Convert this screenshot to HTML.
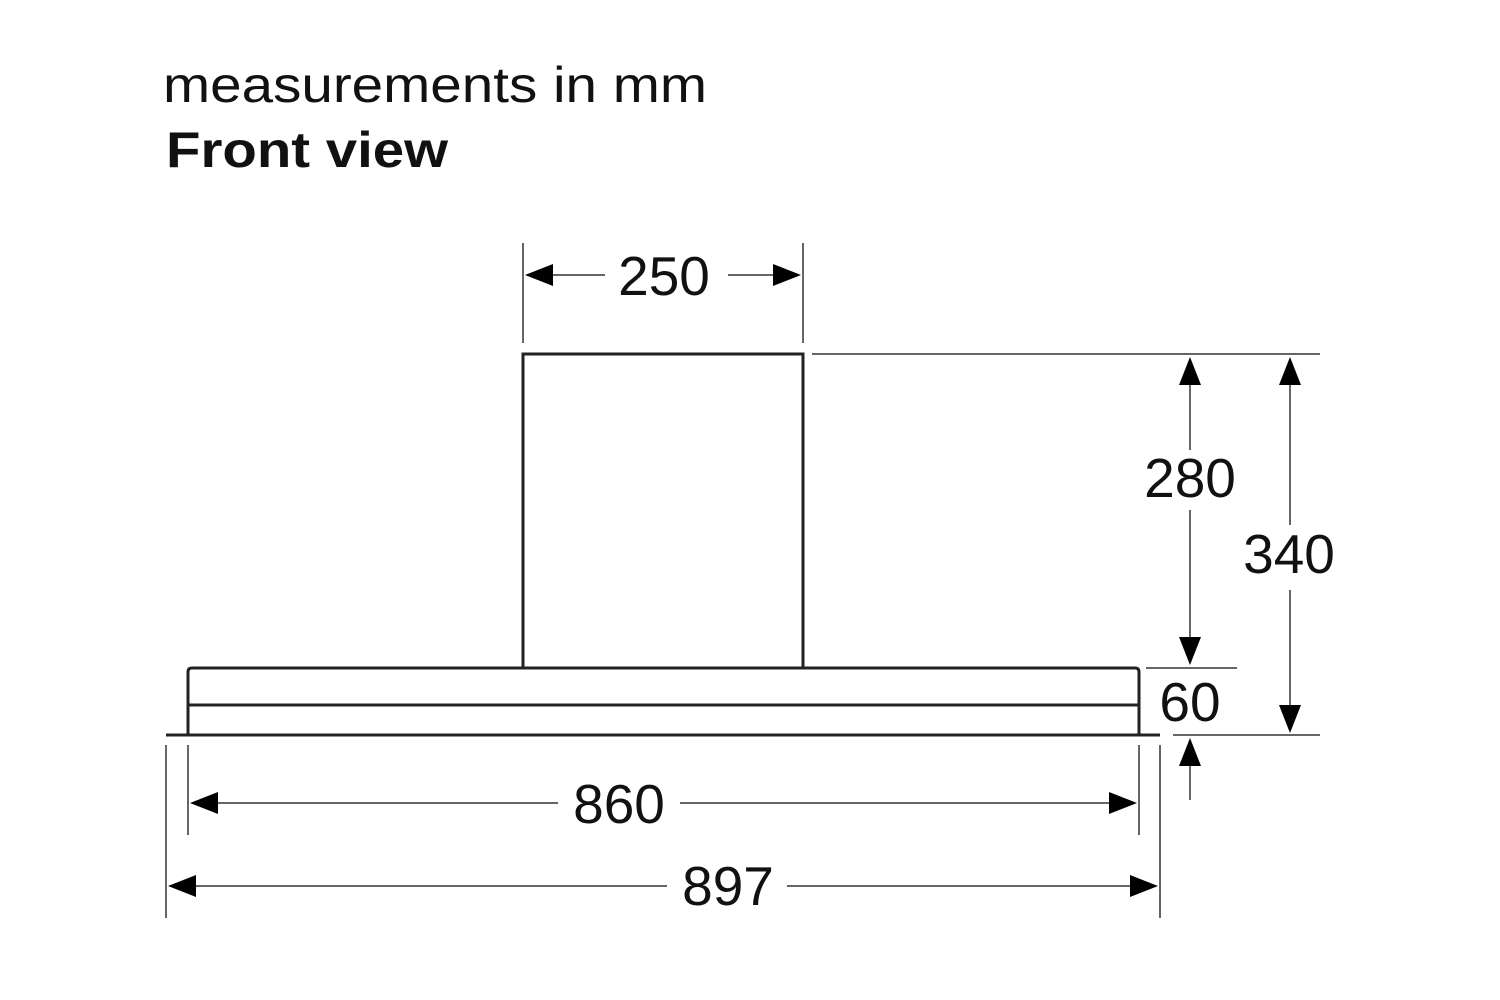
<!DOCTYPE html>
<html><head><meta charset="utf-8"><style>html,body{margin:0;padding:0;background:#fff}svg{display:block}</style></head>
<body>
<svg width="1500" height="1000" viewBox="0 0 1500 1000" xmlns="http://www.w3.org/2000/svg" font-family="Liberation Sans, Arial, sans-serif">
<rect width="1500" height="1000" fill="#fff"/>
<text x="163" y="102" font-size="50" fill="#111" textLength="544" lengthAdjust="spacingAndGlyphs">measurements in mm</text>
<text x="166" y="167" font-size="50" font-weight="bold" fill="#111" textLength="282" lengthAdjust="spacingAndGlyphs">Front view</text>
<g fill="none" stroke="#222" stroke-width="3">
<rect x="523" y="354" width="280" height="314"/>
<path d="M188 735 V672 Q188 668 192 668 H1135 Q1139 668 1139 672 V735"/>
<line x1="188" y1="705" x2="1139" y2="705"/>
<line x1="166" y1="735" x2="1160" y2="735"/>
</g>
<g stroke="#666" stroke-width="2" fill="none">
<line x1="523" y1="243" x2="523" y2="343"/>
<line x1="803" y1="243" x2="803" y2="343"/>
<line x1="540" y1="275" x2="605" y2="275"/>
<line x1="728" y1="275" x2="786" y2="275"/>
<line x1="812" y1="354" x2="1320" y2="354"/>
<line x1="1146" y1="668" x2="1237" y2="668"/>
<line x1="1173" y1="735" x2="1320" y2="735"/>
<line x1="1190" y1="380" x2="1190" y2="450"/>
<line x1="1190" y1="510" x2="1190" y2="640"/>
<line x1="1290" y1="380" x2="1290" y2="525"/>
<line x1="1290" y1="590" x2="1290" y2="710"/>
<line x1="1190" y1="760" x2="1190" y2="800"/>
<line x1="188" y1="745" x2="188" y2="835"/>
<line x1="1139" y1="745" x2="1139" y2="835"/>
<line x1="166" y1="745" x2="166" y2="918"/>
<line x1="1160" y1="745" x2="1160" y2="918"/>
<line x1="210" y1="803" x2="558" y2="803"/>
<line x1="680" y1="803" x2="1115" y2="803"/>
<line x1="188" y1="886" x2="667" y2="886"/>
<line x1="787" y1="886" x2="1138" y2="886"/>
</g>
<g fill="#000">
<polygon points="525,275 553,264 553,286"/>
<polygon points="801,275 773,264 773,286"/>
<polygon points="1190,357 1179,385 1201,385"/>
<polygon points="1190,665 1179,637 1201,637"/>
<polygon points="1290,357 1279,385 1301,385"/>
<polygon points="1290,733 1279,705 1301,705"/>
<polygon points="1190,738 1179,766 1201,766"/>
<polygon points="190,803 218,792 218,814"/>
<polygon points="1137,803 1109,792 1109,814"/>
<polygon points="168,886 196,875 196,897"/>
<polygon points="1158,886 1130,875 1130,897"/>
</g>
<g font-size="55" fill="#111" text-anchor="middle">
<text x="664" y="295">250</text>
<text x="1190" y="497">280</text>
<text x="1289" y="573">340</text>
<text x="1190" y="721">60</text>
<text x="619" y="823">860</text>
<text x="728" y="905">897</text>
</g>
</svg>
</body></html>
